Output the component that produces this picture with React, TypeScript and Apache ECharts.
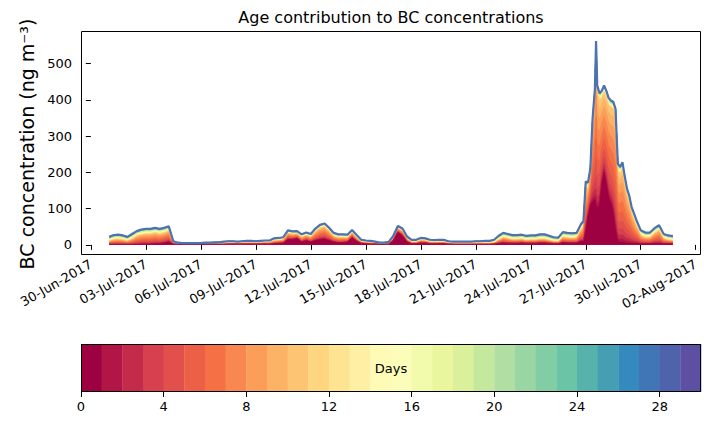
import React, { useEffect, useRef } from "react";
import * as echarts from "echarts";

// hours since 01-Jul-2017 00:00
const hours = [
  0, 6, 12, 18, 24, 30, 36, 42, 48, 54, 60, 66, 72, 78, 84, 90, 96, 102, 108, 114,
  120, 126, 132, 138, 144, 150, 156, 162, 168, 174, 180, 186, 192, 198, 204, 210, 216, 222, 228, 234,
  240, 246, 252, 258, 264, 270, 276, 282, 288, 294, 300, 306, 312, 318, 324, 330, 336, 342, 348, 354,
  360, 366, 372, 378, 384, 390, 396, 402, 408, 414, 420, 426, 432, 438, 444, 450, 456, 462, 468, 474,
  480, 486, 492, 498, 504, 510, 516, 522, 528, 534, 540, 546, 552, 558, 564, 570, 576, 582, 588, 594,
  600, 606, 612, 618,
  621, 624, 627, 630, 633, 636, 637.5, 639, 642, 645, 648, 651, 654, 657, 660, 663, 666, 669, 672, 675, 678, 681, 684,
  690, 696, 702, 708, 714, 720, 726, 732, 738,
];

// total BC (ng m-3)
const totalBC = [
  22, 27, 28, 26, 22, 30, 38, 42, 44, 44, 47, 44, 47, 51, 10, 6,
  5, 5, 5, 5, 5, 6, 6, 7, 7, 9, 10, 10, 9, 10, 11, 11,
  10, 11, 12, 12, 18, 19, 21, 40, 37, 38, 29, 34, 30, 45, 55, 59,
  47, 33, 29, 29, 28, 41, 27, 14, 12, 11, 9, 6, 6, 8, 25, 52,
  45, 23, 14, 14, 19, 18, 14, 13, 14, 14, 10, 9, 9, 9, 9, 9,
  10, 10, 11, 11, 14, 25, 33, 30, 27, 27, 28, 25, 26, 26, 29, 29,
  25, 21, 20, 35, 33, 32, 33, 58,
  65, 175, 172, 210, 350, 430, 562, 440, 418, 425, 440, 425, 405, 398, 395, 375, 224, 215, 228, 190, 155, 135, 105,
  70, 40, 34, 34, 46, 54, 30, 26, 24,
];

// age 0-1 day contribution (dark red)
const day0BC = [
  1, 1, 1, 1, 1, 1, 1, 2, 2, 2, 3, 3, 5, 8, 2, 1,
  1, 1, 1, 1, 1, 1, 1, 1, 1, 1, 2, 2, 2, 2, 2, 2,
  2, 2, 2, 2, 3, 4, 5, 15, 15, 18, 8, 12, 8, 12, 15, 16,
  12, 8, 6, 6, 8, 20, 10, 4, 3, 2, 2, 1, 1, 2, 12, 35,
  25, 8, 3, 3, 5, 5, 3, 3, 3, 3, 2, 1, 1, 1, 1, 1,
  1, 1, 1, 1, 2, 4, 5, 4, 4, 4, 5, 4, 4, 4, 5, 5,
  4, 3, 3, 6, 5, 5, 5, 10,
  8, 40, 80, 110, 120, 125, 110, 100, 110, 170, 200, 170, 130, 115, 90, 40, 10, 8, 8, 6, 5, 5, 4,
  4, 3, 3, 3, 4, 4, 3, 3, 3,
];

// contribution of ages of 10 days and more (yellow, green, blue)
const agedBC = [
  12, 13, 13, 13, 12, 14, 14, 14, 14, 14, 14, 14, 14, 13, 5, 4,
  3, 3, 3, 3, 3, 3, 3, 4, 5, 6, 6, 6, 6, 6, 6, 6,
  6, 6, 6, 6, 7, 7, 7, 8, 8, 8, 8, 8, 8, 9, 9, 9,
  9, 9, 9, 9, 9, 8, 8, 6, 6, 6, 5, 4, 4, 5, 7, 7,
  7, 7, 7, 7, 7, 7, 7, 7, 7, 7, 6, 6, 6, 6, 6, 6,
  6, 6, 7, 7, 9, 12, 13, 13, 13, 13, 13, 13, 13, 13, 14, 14,
  13, 12, 12, 14, 14, 14, 14, 15,
  16, 17, 17, 18, 18, 19, 19, 19, 19, 19, 19, 19, 19, 19, 19, 19, 19, 19, 19, 18, 18, 17, 17,
  16, 14, 14, 14, 14, 14, 13, 13, 13,
];

// share of each age day 1..10 in the young part, and 11..29 in the aged part
const youngWeights = [0.04, 0.06, 0.08, 0.11, 0.13, 0.14, 0.14, 0.12, 0.1, 0.08];
const agedWeights = [
  0.06, 0.06, 0.06, 0.06, 0.06, 0.06,
  0.08, 0.08, 0.08, 0.08, 0.08, 0.08,
  0.023, 0.023, 0.023, 0.023, 0.023, 0.023, 0.022,
];

const xTickDays = [0, 3, 6, 9, 12, 15, 18, 21, 24, 27, 30, 33];
const yTicks = [0, 100, 200, 300, 400, 500];
const cbTicks = [0, 4, 8, 12, 16, 20, 24, 28];
const numDays = 30;

const MONTHS = ["Jan", "Feb", "Mar", "Apr", "May", "Jun", "Jul", "Aug", "Sep", "Oct", "Nov", "Dec"];
const SPECTRAL = [
  "#9e0142", "#d53e4f", "#f46d43", "#fdae61", "#fee08b", "#ffffbf",
  "#e6f598", "#abdda4", "#66c2a5", "#3288bd", "#5e4fa2",
];

function hexToRgb(h: string) {
  return [parseInt(h.slice(1, 3), 16), parseInt(h.slice(3, 5), 16), parseInt(h.slice(5, 7), 16)];
}
function spectral(t: number) {
  const p = t * (SPECTRAL.length - 1);
  const i = Math.min(Math.floor(p), SPECTRAL.length - 2);
  const f = p - i;
  const a = hexToRgb(SPECTRAL[i]);
  const b = hexToRgb(SPECTRAL[i + 1]);
  const c = a.map((v, k) => Math.round(v + (b[k] - v) * f));
  return `rgb(${c[0]},${c[1]},${c[2]})`;
}
const colors = Array.from({ length: numDays }, (_, i) => spectral(i / (numDays - 1)));

function fmtDate(v: number) {
  const dt = new Date(Date.UTC(2017, 5, 30) + Math.round(v * 86400000));
  const dd = String(dt.getUTCDate()).padStart(2, "0");
  return `${dd}-${MONTHS[dt.getUTCMonth()]}-${dt.getUTCFullYear()}`;
}

export default function App() {
  const ref = useRef<HTMLDivElement>(null);
  useEffect(() => {
    if (!ref.current) return;
    const chart = echarts.init(ref.current, undefined, { renderer: "svg" });
    const xs = hours.map((h) => 1 + h / 24);

    const layers: number[][] = Array.from({ length: numDays }, () => []);
    totalBC.forEach((tot, j) => {
      const d0 = Math.min(day0BC[j], tot);
      const rest = Math.max(0, tot - d0);
      const aged = Math.min(agedBC[j], rest);
      const young = rest - aged;
      layers[0].push(d0);
      youngWeights.forEach((w, k) => layers[1 + k].push(young * w));
      agedWeights.forEach((w, k) => layers[11 + k].push(aged * w));
    });
    // cumulative tops of each age layer
    const cum: number[][] = [];
    layers.forEach((vals, i) => {
      cum.push(vals.map((v, j) => v + (i > 0 ? cum[i - 1][j] : 0)));
    });

    // draw from oldest (largest cumulative) to youngest, each filled down to zero
    const areaSeries = [];
    for (let i = numDays - 1; i >= 0; i--) {
      areaSeries.push({
        type: "line",
        name: `day${i}`,
        xAxisIndex: 0,
        yAxisIndex: 0,
        data: cum[i].map((v, j) => [xs[j], v]),
        symbol: "none",
        showSymbol: false,
        silent: true,
        lineStyle: { width: 0.6, color: colors[i] },
        itemStyle: { color: colors[i] },
        areaStyle: { color: colors[i], opacity: 1, origin: 0 },
        z: 2,
      });
    }

    const font = "DejaVu Sans";
    chart.setOption({
      animation: false,
      textStyle: { fontFamily: font },
      grid: [
        { left: 81, top: 31, width: 620, height: 224, show: false, outerBoundsMode: "none", containLabel: false },
        { left: 81, top: 344, width: 620, height: 48, show: false, outerBoundsMode: "none", containLabel: false },
      ],
      xAxis: [
        {
          type: "value",
          gridIndex: 0,
          min: -0.5375,
          max: 33.2875,
          splitLine: { show: false },
          axisLine: { show: false },
          axisTick: { show: true, length: 5, customValues: xTickDays, lineStyle: { color: "#000" } },
          axisLabel: {
            customValues: xTickDays,
            rotate: 30,
            fontSize: 13,
            color: "#000",
            margin: 8,
            fontFamily: font,
            formatter: (v: number) => fmtDate(v),
          },
        },
        {
          type: "value",
          gridIndex: 1,
          min: 0,
          max: numDays,
          splitLine: { show: false },
          axisLine: { show: false },
          axisTick: { show: true, length: 5, customValues: cbTicks, lineStyle: { color: "#000" } },
          axisLabel: { customValues: cbTicks, fontSize: 13, color: "#000", margin: 8, fontFamily: font },
        },
      ],
      yAxis: [
        {
          type: "value",
          gridIndex: 0,
          min: -28,
          max: 590,
          splitLine: { show: false },
          axisLine: { show: false },
          axisTick: { show: true, length: 5, customValues: yTicks, lineStyle: { color: "#000" } },
          axisLabel: { customValues: yTicks, fontSize: 13, color: "#000", margin: 9, fontFamily: font },
        },
        {
          type: "value",
          gridIndex: 1,
          min: 0,
          max: 1,
          show: false,
        },
      ],
      series: [
        ...areaSeries,
        {
          type: "line",
          name: "total",
          xAxisIndex: 0,
          yAxisIndex: 0,
          data: totalBC.map((v, j) => [xs[j], v]),
          symbol: "none",
          showSymbol: false,
          silent: true,
          lineStyle: { width: 2.2, color: "#4C72B0" },
          itemStyle: { color: "#4C72B0" },
          z: 3,
        },
        {
          type: "custom",
          xAxisIndex: 1,
          yAxisIndex: 1,
          silent: true,
          data: colors.map((_, i) => [i, i + 1, 0.5]),
          encode: { x: [0, 1], y: 2 },
          renderItem: (params: any, api: any) => {
            const a = api.coord([api.value(0), 1]);
            const b = api.coord([api.value(1), 0]);
            return {
              type: "rect",
              shape: { x: a[0], y: a[1], width: b[0] - a[0] + 0.3, height: b[1] - a[1] },
              style: { fill: colors[params.dataIndex] },
            };
          },
        },
      ],
      graphic: [
        {
          type: "rect",
          z: 100,
          silent: true,
          shape: { x: 81.5, y: 31.5, width: 619, height: 223 },
          style: { fill: "none", stroke: "#000", lineWidth: 1 },
        },
        {
          type: "rect",
          z: 100,
          silent: true,
          shape: { x: 81.5, y: 344.5, width: 619, height: 47 },
          style: { fill: "none", stroke: "#000", lineWidth: 1 },
        },
        {
          type: "text",
          z: 100,
          x: 391,
          y: 17,
          style: {
            text: "Age contribution to BC concentrations",
            fontSize: 16,
            fontFamily: font,
            fill: "#000",
            align: "center",
            verticalAlign: "middle",
          },
        },
        {
          type: "text",
          z: 100,
          x: 27,
          y: 144,
          rotation: Math.PI / 2,
          style: {
            text: "BC concentration (ng m\u207B\u00B3)",
            fontSize: 19,
            fontFamily: font,
            fill: "#000",
            align: "center",
            verticalAlign: "middle",
          },
        },
        {
          type: "text",
          z: 100,
          x: 391,
          y: 368,
          style: {
            text: "Days",
            fontSize: 13,
            fontFamily: font,
            fill: "#000",
            align: "center",
            verticalAlign: "middle",
          },
        },
      ],
    });
    return () => chart.dispose();
  }, []);
  return (
    <div
      ref={ref}
      style={{ position: "fixed", left: 0, top: 0, width: 710, height: 425, background: "#fff" }}
    />
  );
}
